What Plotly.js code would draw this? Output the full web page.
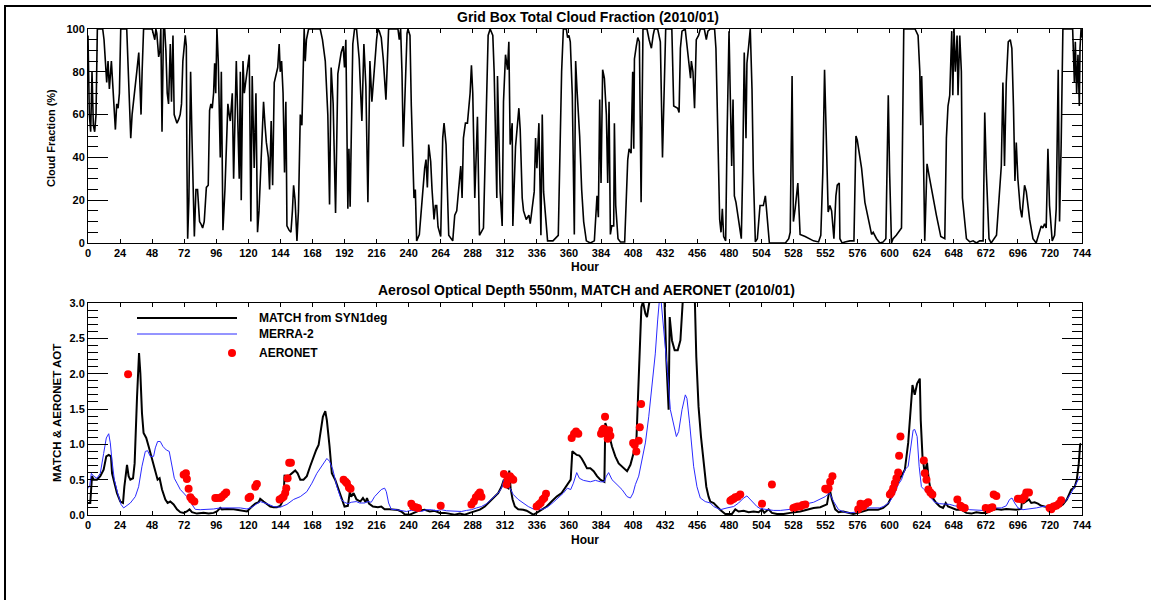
<!DOCTYPE html>
<html>
<head>
<meta charset="utf-8">
<script src="https://cdn.plot.ly/plotly-3.0.1.min.js"></script>
<style>
  html, body { margin: 0; padding: 0; background: #fff; }
  #wrap { position: relative; width: 1151px; height: 600px; }
  #chart { width: 1151px; height: 600px; }
  #frame { position: absolute; left: 4px; top: 5px; right: 0; bottom: 0;
           border-left: 2px solid #000; border-top: 2px solid #000; pointer-events: none; }
</style>
</head>
<body>
<div id="wrap"><div id="chart"></div><div id="frame"></div></div>
<script>
// ---- Data: [hour, value] pairs ----
const cloudFraction = [
[0,97],[1,60],[2,52],[3,80],[4,55],[5,52],[6,60],[7,100],[11,100],[12,95],[13,85],[14,75],[15,85],[16,72],[17.5,85],[18.5,75],[19.5,68],[20.5,53],[21.5,65],[22.5,63],[23.5,70],[24.5,100],[29,100],[30,80],[31,60],[32,49],[33,60],[35,70],[36.5,80],[38,89],[39.7,60],[40.5,80],[41.6,100],[48,100],[50,95],[50.8,100],[51.5,98],[52.9,87],[53.8,90],[54.5,100],[55.4,52],[56.5,100],[57.4,100],[58.3,90],[59.3,70],[60.3,65],[61.6,93],[62.5,66],[63.6,97],[64.5,60],[65.5,58],[66.6,56],[68,58],[69,60],[70,65],[71,85],[72.8,97],[73.6,92],[74,40],[74.6,2],[75.5,20],[76.8,80],[77.8,50],[78.8,25],[79.6,3],[80.8,25],[82,25],[83,15],[83.5,10],[84.5,9],[85.8,7],[87,10],[88,20],[88.6,26],[90,27],[91,62],[92,65],[93,63],[94,70],[94.8,84],[95.6,70],[96.5,100],[97.5,85],[99,40],[99.8,80],[100.5,40],[101,6],[102.5,25],[103.5,45],[104.7,65],[105.7,60],[106.5,57],[108,70],[109,30],[111,85],[112,60],[113.2,30],[114,80],[114.7,20],[116,85],[117,70],[118,75],[119,80],[119.8,85],[120.7,88],[121.3,50],[121.9,10],[122.9,78],[123.8,40],[124.4,35],[125.7,70],[126.3,20],[126.9,5],[128,15],[129,30],[130,45],[130.9,55],[131.4,66],[132.5,55],[133.5,47],[135,40],[135.9,25],[137.1,57],[138.2,27],[139.4,75],[140.9,80],[142,82],[143.1,93],[143.9,80],[144.9,85],[146,70],[147.1,33],[148.1,66],[148.5,40],[148.9,8],[150.5,6],[151.9,5],[153,15],[153.9,27],[155,20],[156.4,1],[157.5,15],[158.2,40],[158.9,60],[160.1,55],[161,80],[161.8,100],[162.6,85],[163.5,95],[165.1,100],[173.8,100],[175.5,95],[177.6,85],[179.5,60],[180.8,18],[182,82],[183.5,65],[185.3,14],[187,79],[189.5,89],[191,92],[192,82],[193,95],[194.5,16],[195.3,44],[196.2,17],[198.2,93],[199.5,100],[201,100],[203,86],[205,57],[206.5,93],[208,73],[209.5,19],[211,85],[212.5,66],[214,80],[216,95],[217,100],[218,99],[219.5,96],[221,86],[223,67],[224,80],[225,100],[232,100],[233,95],[234,100],[235,80],[236,45],[237.5,80],[238.8,98],[239.5,100],[241,97],[242,64],[244,21],[245,25],[246,1],[248,4],[250,22],[252,35],[253,39],[254,26],[255,46],[256.5,38],[257.5,25],[259,11],[260,17.5],[261,17.5],[262,7.5],[264,3],[265.5,49],[266.5,56],[268,46],[269,24],[270,3.6],[273,1],[274.5,13],[276,15],[277.5,24],[279,36],[280,21],[281,49],[282.5,56],[284,56],[286,70],[287,83],[288,70],[289.5,21],[291.5,59],[293,3.6],[296,7],[298,64],[299.5,97],[301,100],[303,97],[304,80],[306,21],[306.5,78],[308.5,24],[310,8],[311,66],[312.5,88],[314,81],[315,94],[316,46],[317.5,56],[318,8],[320,45],[322.5,63],[323.5,53],[325,21],[326,15],[328,11],[330,13],[331,9],[332,14],[334,24],[335,49],[336,35],[337.5,56],[339,3.6],[340,60],[341,24],[344,1],[348,1],[352,3.6],[354.5,80],[355.8,100],[358,100],[359,96],[360,97],[361,94],[362.5,69],[364,4],[365,85],[366,72],[368,50],[369.5,25],[371,10],[373,1],[376,0],[379,1],[381,22],[382,12],[383,67],[384,28],[385.2,81],[386.5,77],[388,60],[389,28],[390,66],[391,4],[392,8],[393.5,8],[394,56],[395,17.5],[396.7,2],[398.5,0.5],[401.7,0.5],[404,39],[405,44],[406.5,42],[407.7,80],[408.5,44],[409,86],[410.4,92],[411.5,96],[412.7,94],[414,19],[415.4,100],[418.4,100],[420,95],[421.7,91],[423,97],[424,100],[426.4,100],[428.4,94],[430,40],[431.4,80],[432.4,100],[437,100],[438.4,64],[441.4,63],[442.4,61],[443.4,91],[444.6,99],[447,100],[449,89],[451,77],[451.6,85],[452.8,80],[454,63],[455.3,95],[457,97],[458.3,100],[461.3,100],[462.8,95],[464,99],[465.8,100],[469,100],[470,91],[471.5,49],[472.8,11],[473.8,5],[474.8,16],[475.8,3],[477.3,1],[478.3,49],[479.8,99],[480.8,67],[481.8,36],[482.8,67],[483.8,22],[485,19],[487,10],[489,2],[490,33],[491.2,89],[492.5,49],[493.2,84],[494.5,92],[495.7,100],[497,72],[498,33],[499.5,0.5],[501,2],[503,17.5],[505.5,17.5],[507,22],[508.2,14.5],[510,0],[522,0],[524.5,2],[525.6,5],[527,78],[528,10],[529.3,16],[531.3,28],[533,4],[536.8,3],[543,1],[546.8,0.5],[548.5,3.6],[550,33],[551.3,81],[552.5,52],[554,14.5],[555.3,17.5],[556.6,15],[558.3,2],[559.8,22],[560.8,27],[562.3,28],[562.8,2],[564.5,0],[566.5,0.5],[570.3,1],[573.3,1],[574.8,50],[575.8,48],[579,35],[581.5,19],[584,11],[586.5,4],[587.7,5],[590.2,2],[592.7,0],[595.2,0.5],[597.2,2],[599,69],[600,33],[601.4,0],[602.6,2],[605,3.6],[608.9,7],[610.6,100],[619,100],[621.3,97],[622.6,80],[623.3,55],[624,78],[625,55],[626.3,1],[628,37],[630,30],[632.5,21],[635,13],[638.3,3],[641.3,2],[642.5,49],[643.7,64],[645,69],[646.5,99],[647.3,69],[648.2,100],[649.2,80],[650.5,97],[651.2,69],[652.5,97],[653.7,80],[654.5,21],[657.5,2],[660,0.5],[662.5,1],[665,0],[667.4,1],[670,1],[671.2,61],[672.4,33],[674.4,2],[676,0],[680,3.6],[683.6,36],[684.8,75],[686,36],[687.3,75],[688.8,94],[690.3,95],[691.5,91],[692.7,64],[693.8,29],[694.8,47],[696,30],[697.8,16],[699,12],[701,27],[702.3,24],[704.8,11],[707.3,2],[709.7,0],[711.7,4],[713.5,8],[714.7,7],[716,9],[717.2,7],[718.5,44],[719.7,17.5],[721.7,1],[723.5,3.6],[724.7,16],[726.2,81],[727.2,10],[728.4,46],[729.7,100],[737,100],[738.3,75],[739,94],[740,70],[741,88],[742,64],[742.5,91],[743.3,100],[744,96]
];

const matchAOT = [
[0,0.17],[1.7,0.17],[3,0.55],[4.2,0.5],[6.7,0.5],[9.2,0.55],[11.7,0.64],[13.7,0.83],[15.5,0.85],[17.2,0.83],[18,0.59],[19.7,0.45],[21.7,0.31],[24.2,0.19],[26.2,0.17],[27.2,0.40],[28,0.5],[29.2,0.71],[30.4,0.55],[31.7,0.5],[33.7,0.52],[34.9,0.73],[36.7,1.67],[38.2,2.29],[39.2,2.0],[40.4,1.44],[41.6,1.16],[43.6,1.09],[45.4,0.97],[47.9,0.78],[50.4,0.59],[52.1,0.5],[53.6,0.52],[55.4,0.36],[57.9,0.22],[59.6,0.17],[61.6,0.19],[64.1,0.15],[66.6,0.08],[69.1,0.04],[71.6,0.03],[74,0.05],[76,0.08],[77.8,0.04],[81.5,0.02],[86.5,0.03],[90.3,0.02],[94,0.03],[96.5,0.05],[99,0.1],[100.2,0.08],[104,0.085],[109,0.08],[114,0.06],[119,0.05],[122.7,0.12],[125.2,0.16],[127.7,0.18],[128.9,0.23],[131.4,0.19],[133.9,0.15],[136.4,0.12],[138.9,0.11],[141.4,0.11],[143.9,0.13],[146.4,0.22],[147.1,0.57],[148.4,0.47],[150.1,0.55],[152.6,0.59],[155.1,0.63],[156.9,0.59],[158.9,0.5],[161.3,0.5],[163.8,0.55],[166.3,0.69],[168.8,0.83],[170.8,0.92],[172.6,0.99],[173.8,1.16],[175.8,1.39],[177.6,1.47],[178.8,1.34],[180.8,0.97],[182.5,0.59],[185,0.5],[187.5,0.36],[189.5,0.24],[192,0.12],[194.5,0.13],[196,0.33],[197,0.26],[198.8,0.31],[201,0.22],[203.8,0.19],[205.8,0.24],[207.8,0.18],[208.8,0.24],[210.3,0.16],[213.3,0.12],[217,0.11],[219.5,0.12],[222,0.08],[225.8,0.08],[229.5,0.07],[232,0.07],[234.5,0.05],[237,0.01],[240.8,0.005],[244.5,0.04],[248.3,0.065],[252,0.075],[255.8,0.05],[259.5,0.06],[263.3,0.03],[267,0.03],[270.8,0.015],[274.5,0.005],[278.3,0.02],[282,0.005],[285.8,0.03],[289.5,0.05],[293.3,0.075],[297,0.12],[300.8,0.19],[304.5,0.26],[307,0.31],[309.5,0.40],[311.3,0.5],[312.8,0.4],[314.5,0.38],[315.3,0.63],[316.3,0.38],[317.8,0.22],[319.5,0.12],[322,0.08],[325.8,0.075],[328.3,0.06],[330.8,0.03],[333.3,0.005],[335.8,0.03],[339.5,0.075],[343.3,0.12],[347,0.19],[350.8,0.26],[354.5,0.31],[357,0.38],[359.5,0.44],[361.3,0.5],[362.5,0.9],[364,0.88],[365.8,0.85],[367.8,0.84],[369.5,0.8],[371.3,0.74],[373.5,0.66],[376,0.66],[378.5,0.62],[381,0.55],[383.5,0.5],[386.5,0.47],[387.2,1.3],[388.5,1.23],[389.7,1.16],[392.2,0.97],[394.7,0.83],[397.2,0.73],[399.7,0.69],[402.2,0.64],[403.5,0.62],[406,0.71],[408.4,0.87],[410.4,1.02],[411.4,1.53],[413,2.38],[414.2,2.94],[415.4,3.02],[417.2,2.85],[418.4,2.8],[419.7,2.97],[420.9,3.1],[423,3.6],[426,3.9],[429,3.7],[431.4,3.1],[432.9,2.19],[434.6,1.49],[435.4,2.8],[437.1,2.47],[439.1,2.33],[441.4,2.33],[443.4,2.47],[444.6,3.1],[447,3.6],[451,3.7],[454,3.2],[455.3,2.24],[457,1.53],[458.8,1.11],[460.8,0.78],[462.8,0.4],[464.5,0.26],[465.8,0.19],[468.3,0.17],[470.8,0.12],[473.3,0.07],[477,0.015],[482,0.015],[484.5,0.08],[487,0.05],[490.7,0.06],[494.5,0.04],[498.2,0.05],[502,0.04],[504.5,0.08],[506.2,0.03],[509.4,0.08],[511.9,0.03],[515.7,0.015],[520.7,0.015],[525.6,0.03],[529.4,0.04],[533.1,0.05],[538.1,0.075],[543.1,0.1],[548.1,0.11],[553.1,0.15],[555.1,0.37],[556.8,0.22],[559.3,0.08],[561.8,0.04],[565.3,0.05],[569,0.03],[572.8,0.015],[576.5,0.03],[580.2,0.05],[584,0.075],[587.7,0.075],[591.4,0.075],[595.2,0.1],[598.9,0.16],[601.4,0.26],[603.9,0.4],[606.4,0.47],[608.9,0.55],[611.4,0.64],[613.9,1.02],[615.6,1.46],[617.1,1.84],[618.8,1.7],[620.6,1.86],[622.6,1.93],[623.3,1.34],[624.6,0.83],[626.3,0.59],[628,0.74],[629.3,0.5],[631.3,0.29],[633,0.22],[635,0.17],[637.5,0.12],[640,0.1],[642,0.17],[643.7,0.12],[646.2,0.1],[650,0.075],[653.7,0.075],[657.4,0.03],[661.2,0.02],[664.9,0.04],[668.6,0.03],[672.4,0.03],[674.9,0.05],[677.4,0.075],[679.9,0.085],[683.6,0.075],[687.3,0.085],[691.1,0.075],[694.8,0.075],[698.5,0.085],[699.3,0.24],[700.5,0.17],[702.3,0.19],[704.3,0.22],[706,0.17],[708.5,0.18],[711,0.16],[713.5,0.13],[716,0.12],[719.7,0.11],[723.5,0.12],[727.2,0.12],[729.7,0.15],[732.7,0.22],[735.9,0.36],[738.4,0.39],[740.1,0.5],[741.6,0.73],[742.6,1.0],[743.4,1.01]
];

const merraAOT = [
[0,0.38],[1.2,0.4],[2.5,0.59],[4.2,0.55],[6.7,0.52],[9.2,0.59],[11.7,0.87],[13.7,1.09],[15.5,1.15],[16.7,1.02],[18,0.76],[19.7,0.5],[22.2,0.31],[24.7,0.15],[26.7,0.1],[29.2,0.13],[31.7,0.17],[35.4,0.26],[37.9,0.4],[40.4,0.69],[42.9,0.9],[44.6,0.91],[46.6,0.83],[49.1,0.83],[50.4,0.95],[52.1,1.04],[54.1,1.04],[56.1,0.97],[58.6,0.92],[60.8,0.9],[62.8,0.69],[64.6,0.52],[66.6,0.45],[69.1,0.36],[71.6,0.31],[74,0.26],[77.8,0.15],[80.3,0.08],[84,0.075],[89,0.075],[94,0.085],[99,0.1],[104,0.1],[109,0.1],[114,0.1],[119,0.085],[122.7,0.11],[126.4,0.16],[128.9,0.19],[133.9,0.16],[138.9,0.12],[143.9,0.11],[148.9,0.15],[153.9,0.22],[158.9,0.26],[163.8,0.33],[167.6,0.45],[171.3,0.59],[175.1,0.69],[178.8,0.8],[180.8,0.76],[183.3,0.64],[186.3,0.4],[189.5,0.22],[192,0.18],[194.5,0.16],[197,0.18],[200.8,0.19],[203.3,0.17],[207,0.17],[209.5,0.19],[212,0.18],[214.5,0.26],[217,0.31],[219.5,0.36],[222,0.38],[223.3,0.33],[225,0.17],[227,0.08],[230.8,0.075],[234.5,0.065],[238.3,0.05],[242,0.065],[245.8,0.06],[249.5,0.05],[253.3,0.075],[257,0.075],[260.8,0.06],[264.5,0.075],[268.3,0.06],[272,0.06],[275.8,0.05],[279.5,0.05],[283.3,0.065],[287,0.075],[290.8,0.1],[294.5,0.12],[298.3,0.16],[302,0.22],[304.5,0.26],[307,0.31],[309.5,0.38],[311.3,0.5],[313.3,0.47],[315.8,0.38],[318.3,0.29],[322,0.22],[325.8,0.17],[329.5,0.12],[333.3,0.085],[337,0.075],[340.8,0.085],[344.5,0.12],[348.3,0.18],[352,0.24],[355.8,0.31],[358.8,0.38],[361.3,0.36],[363.3,0.45],[365.8,0.6],[367.8,0.52],[370.8,0.49],[373.5,0.48],[376,0.47],[379.8,0.49],[383.5,0.47],[386.5,0.47],[388,0.55],[389.7,0.6],[392.2,0.5],[396,0.43],[399.7,0.36],[403.5,0.26],[406,0.24],[408,0.31],[409.7,0.43],[412.2,0.55],[414.7,0.78],[417.2,1.02],[419.7,1.39],[422.2,1.86],[424.6,2.28],[426.4,2.76],[427.6,3.02],[429.1,3.0],[430.4,2.75],[432.1,2.38],[433.9,2.0],[435.9,1.49],[438.4,1.3],[440.4,1.11],[442.1,1.18],[444.6,1.49],[447.1,1.7],[448.3,1.65],[450.3,1.3],[453.3,0.69],[455.8,0.4],[458.3,0.24],[462,0.19],[465.8,0.17],[468.3,0.12],[473.3,0.075],[478.3,0.1],[483.3,0.12],[487,0.17],[490.7,0.24],[493.2,0.27],[495.7,0.22],[498.2,0.16],[500.7,0.12],[503.2,0.09],[508.2,0.075],[513.2,0.065],[518.2,0.065],[523.2,0.075],[528.1,0.085],[533.1,0.12],[538.1,0.16],[543.1,0.18],[548.1,0.23],[551.8,0.26],[555.1,0.31],[558.1,0.19],[561.8,0.075],[566.5,0.04],[570.3,0.03],[574,0.04],[577.7,0.075],[581.5,0.1],[585.2,0.1],[589,0.1],[592.7,0.1],[596.4,0.13],[600.2,0.19],[603.9,0.31],[606.4,0.43],[608.9,0.5],[611.4,0.64],[613.9,0.69],[615.9,0.97],[617.6,1.2],[618.8,1.21],[620.6,1.11],[622.1,0.69],[623.8,0.4],[625.8,0.36],[627.6,0.33],[630,0.26],[633.8,0.18],[637.5,0.16],[641.3,0.16],[645,0.15],[648.7,0.13],[651.2,0.12],[654.9,0.11],[659.9,0.075],[664.9,0.075],[669.9,0.065],[674.9,0.085],[679.9,0.1],[683.6,0.1],[687.3,0.13],[689.8,0.22],[691.6,0.24],[693.6,0.17],[696.1,0.1],[699.8,0.075],[704.8,0.085],[709.8,0.1],[714.7,0.12],[719.7,0.12],[724.7,0.12],[729.7,0.16],[732.7,0.22],[735.9,0.31],[739.1,0.43],[741.6,0.52],[742.6,0.55]
];

const aeronetAOT = [
[30,1.99],[71.6,0.57],[73.3,0.59],[74,0.51],[75.3,0.37],[76.6,0.25],[77.8,0.22],[79.6,0.19],[95.3,0.24],[96.5,0.24],[99,0.24],[100.2,0.26],[102,0.29],[103.5,0.32],[120.2,0.24],[121.4,0.26],[125.2,0.40],[126.4,0.44],[143.4,0.22],[145.2,0.24],[146.4,0.26],[147.6,0.31],[148.4,0.38],[149.4,0.52],[150.6,0.74],[151.9,0.74],[191.3,0.5],[192.8,0.47],[193.8,0.45],[195.3,0.39],[196.5,0.37],[242,0.16],[243.3,0.12],[245.3,0.11],[247,0.1],[264,0.13],[287,0.15],[288.8,0.19],[290.3,0.25],[292,0.29],[293.3,0.32],[294.5,0.26],[311.3,0.58],[313.3,0.43],[314,0.51],[315.8,0.55],[317,0.52],[318.3,0.5],[335.8,0.12],[337.5,0.15],[338.8,0.17],[340.3,0.22],[341.5,0.24],[342.8,0.3],[362,1.09],[363.8,1.15],[365.3,1.18],[367,1.15],[384,1.15],[385,1.2],[386,1.22],[387,1.39],[388,1.15],[389,1.08],[390,1.2],[391,1.12],[408,1.02],[409.2,0.99],[410.4,0.9],[412.2,1.05],[413,1.24],[414,1.57],[480.8,0.2],[482,0.22],[483.3,0.23],[484.5,0.25],[486.3,0.26],[488.2,0.29],[504.5,0.16],[511.9,0.43],[528,0.1],[529.4,0.11],[531.1,0.12],[533.1,0.12],[535,0.14],[536.9,0.15],[551.8,0.37],[553,0.36],[554.3,0.38],[555.5,0.47],[557.2,0.55],[576.5,0.08],[578.2,0.16],[580.2,0.12],[582.2,0.16],[584,0.18],[600.2,0.29],[601.4,0.32],[602.7,0.38],[603.9,0.45],[605.1,0.52],[606.4,0.6],[607.1,0.84],[608.1,1.11],[625.6,0.77],[626.3,0.59],[627.6,0.5],[629,0.36],[630.5,0.32],[632,0.29],[650.7,0.22],[653,0.13],[654.5,0.11],[656.2,0.1],[671.9,0.1],[673.6,0.08],[675.4,0.1],[676.9,0.11],[677.9,0.29],[679.9,0.27],[696,0.23],[697.8,0.23],[699.3,0.22],[701,0.26],[702.3,0.32],[704.3,0.32],[719.7,0.1],[721,0.08],[722.7,0.12],[724.7,0.13],[726.7,0.16],[728.4,0.21]
];

const hourTicks = [0,24,48,72,96,120,144,168,192,216,240,264,288,312,336,360,384,408,432,456,480,504,528,552,576,600,624,648,672,696,720,744];
const seriesNames = ['MATCH from SYN1deg', 'MERRA-2', 'AERONET'];
const topTitle = 'Grid Box Total Cloud Fraction (2010/01)';
const bottomTitle = 'Aerosol Optical Depth 550nm, MATCH and AERONET (2010/01)';

// ---- Build ----
const X = a => a.map(p => p[0]);
const Y = a => a.map(p => p[1]);
const FONT = 'Liberation Sans, Arial, Helvetica, sans-serif';

const traces = [
  {x: X(cloudFraction), y: Y(cloudFraction), xaxis: 'x', yaxis: 'y', type: 'scatter', mode: 'lines',
   line: {color: '#000', width: 1.6}, showlegend: false, hoverinfo: 'skip'},
  {x: X(matchAOT), y: Y(matchAOT), xaxis: 'x2', yaxis: 'y2', type: 'scatter', mode: 'lines', name: seriesNames[0],
   line: {color: '#000', width: 2}, showlegend: false},
  {x: X(merraAOT), y: Y(merraAOT), xaxis: 'x2', yaxis: 'y2', type: 'scatter', mode: 'lines', name: seriesNames[1],
   line: {color: '#2a2aff', width: 1}, showlegend: false},
  {x: X(aeronetAOT), y: Y(aeronetAOT), xaxis: 'x2', yaxis: 'y2', type: 'scatter', mode: 'markers', name: seriesNames[2],
   marker: {color: '#ff0000', size: 8}, showlegend: false, cliponaxis: true}
];

const tickFont = {family: FONT, size: 11, color: '#000', weight: 'bold'};
function xAx(anchor) {
  return {
    anchor: anchor, domain: [0, 1], range: [0, 744], tickmode: 'array', tickvals: hourTicks,
    ticktext: hourTicks.map(String),
    ticks: 'inside', ticklen: 4, tickcolor: '#000', tickwidth: 1,
    showline: true, linecolor: '#000', linewidth: 1, mirror: 'allticks',
    showgrid: false, zeroline: false, tickfont: tickFont, fixedrange: true
  };
}
function yAx(anchor, domain, range, dtick, minorDtick, fmt) {
  return {
    anchor: anchor, domain: domain, range: range, tick0: 0, dtick: dtick, tickformat: fmt,
    ticks: 'inside', ticklen: 20, tickcolor: '#000', tickwidth: 1,
    minor: {ticks: 'inside', ticklen: 10, dtick: minorDtick, tick0: 0, tickcolor: '#000', tickwidth: 1, showgrid: false},
    showline: true, linecolor: '#000', linewidth: 1, mirror: 'allticks',
    showgrid: false, zeroline: false, tickfont: tickFont, fixedrange: true
  };
}

// paper coordinate helpers (plot area: left 88, top 29, width 994, height 486)
const PL = 88, PT = 29, PW = 994, PH = 486;
const px = v => (v - PL) / PW;
const py = v => (PT + PH - v) / PH;

const annFont = (s) => ({family: FONT, size: s, color: '#000', weight: 'bold'});
const annotations = [
  {text: topTitle, xref: 'paper', yref: 'paper', x: px(588), y: py(17), xanchor: 'center', yanchor: 'middle', showarrow: false, font: annFont(14)},
  {text: bottomTitle, xref: 'paper', yref: 'paper', x: px(586), y: py(290), xanchor: 'center', yanchor: 'middle', showarrow: false, font: annFont(14)},
  {text: 'Hour', xref: 'paper', yref: 'paper', x: 0.5, y: py(267), xanchor: 'center', yanchor: 'middle', showarrow: false, font: annFont(12)},
  {text: 'Hour', xref: 'paper', yref: 'paper', x: 0.5, y: py(540), xanchor: 'center', yanchor: 'middle', showarrow: false, font: annFont(12)},
  {text: 'Cloud Fraction (%)', xref: 'paper', yref: 'paper', x: px(51), y: py(138), xanchor: 'center', yanchor: 'middle', textangle: -90, showarrow: false, font: annFont(11)},
  {text: 'MATCH &amp; AERONET AOT', xref: 'paper', yref: 'paper', x: px(57), y: py(413), xanchor: 'center', yanchor: 'middle', textangle: -90, showarrow: false, font: annFont(11.5)},
  {text: seriesNames[0], xref: 'paper', yref: 'paper', x: px(257), y: py(318), xanchor: 'left', yanchor: 'middle', showarrow: false, font: annFont(12)},
  {text: seriesNames[1], xref: 'paper', yref: 'paper', x: px(257), y: py(334), xanchor: 'left', yanchor: 'middle', showarrow: false, font: annFont(12)},
  {text: seriesNames[2], xref: 'paper', yref: 'paper', x: px(257), y: py(353), xanchor: 'left', yanchor: 'middle', showarrow: false, font: annFont(12)}
];

const shapes = [
  {type: 'line', xref: 'paper', yref: 'paper', x0: px(137), x1: px(237), y0: py(318), y1: py(318), line: {color: '#000', width: 2}},
  {type: 'line', xref: 'paper', yref: 'paper', x0: px(137), x1: px(237), y0: py(334), y1: py(334), line: {color: '#2a2aff', width: 1}},
  {type: 'circle', xref: 'paper', yref: 'paper', xsizemode: 'pixel', ysizemode: 'pixel',
   xanchor: px(232), yanchor: py(353), x0: -4, x1: 4, y0: -4, y1: 4,
   fillcolor: '#ff0000', line: {color: '#ff0000', width: 0}}
];

const layout = {
  width: 1151, height: 600,
  margin: {l: PL, r: 1151 - PL - PW, t: PT, b: 600 - PT - PH, pad: 0},
  paper_bgcolor: '#fff', plot_bgcolor: '#fff',
  font: {family: FONT, color: '#000'},
  showlegend: false,
  xaxis: xAx('y'),
  yaxis: yAx('x', [py(243), 1], [0, 100], 20, 5, 'd'),
  xaxis2: xAx('y2'),
  yaxis2: yAx('x2', [0, py(303)], [0, 3], 0.5, 0.1, '.1f'),
  annotations: annotations,
  shapes: shapes,
  hovermode: false
};

Plotly.newPlot('chart', traces, layout, {staticPlot: true, displayModeBar: false});
</script>
</body>
</html>
